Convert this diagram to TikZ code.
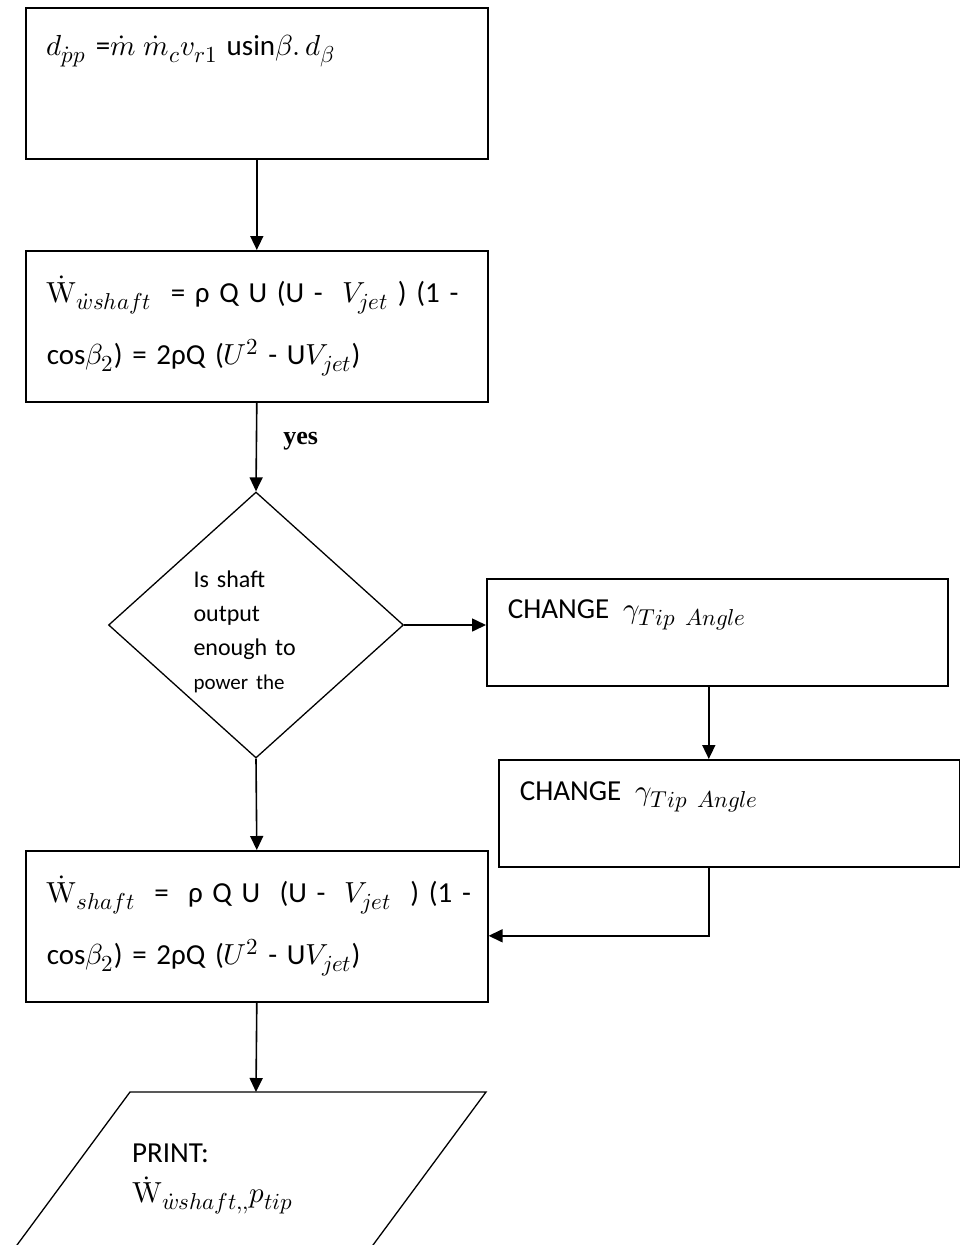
\documentclass[tikz,border=0pt]{standalone}
\usepackage{fontspec}
\usepackage{unicode-math}
\setmainfont{Carlito}
\setmathfont{Latin Modern Math}
\newfontfamily\yesfont{Liberation Serif}
\DeclareMathSizes{29}{29}{23}{18}
\usetikzlibrary{arrows.meta,shapes.geometric}

\begin{document}
\begin{tikzpicture}[x=1pt,y=-1pt,
  stepbox/.style={draw, line width=1.6pt, anchor=north west, inner xsep=21pt, inner ysep=0pt,
    align=left, font=\fontsize{29}{62}\selectfont},
  decision/.style={draw, diamond, line width=1.3pt, inner sep=0pt, align=left,
    font=\fontsize{24}{34}\selectfont},
  flow/.style={draw, line width=1.6pt, -{Triangle[length=14pt,width=13pt]}}]
  \useasboundingbox (0,0) rectangle (960,1245);
  \clip (0,0) rectangle (960,1245);

  % main column
  \node[stepbox, text width=420pt, text height=48pt, text depth=103pt] (box1) at (25,7)
    {$d_{\dot{p}p}$ =$\dot{m}\;\dot{m}_c v_{r1}$ usin$\beta.\,d_\beta$};
  \node[stepbox, text width=420pt, minimum height=151pt] (box2) at (25,250)
    {\mbox{$\dot{\symup{W}}_{\dot{w}shaft}$ \ = ρ Q U (U -\ \ $V_{jet}$ ) (1 -}\\
     \mbox{cos$\beta_2$) = 2ρQ ($U^2$ - U$V_{jet}$)}};
  \node[decision, minimum width=295pt, minimum height=266pt, text width=125pt] (dec) at (256,625)
    {\rule{0pt}{30pt}Is shaft\\output\\enough to\\{\fontsize{21}{34}\selectfont power the}};
  \node[stepbox, text width=420pt, minimum height=151pt] (box5) at (25,850)
    {\mbox{$\dot{\symup{W}}_{shaft}$ \ = \ ρ Q U \ (U -\ \ $V_{jet}$ \ ) (1 -}\\
     \mbox{cos$\beta_2$) = 2ρQ ($U^2$ - U$V_{jet}$)}};

  % side branch
  \node[stepbox, text width=419pt, text height=40pt, text depth=67pt] (box3) at (486,578)
    {CHANGE\enspace$\gamma_{Tip\ Angle}$};
  \node[stepbox, text width=419pt, text height=41pt, text depth=66pt] (box4) at (498,759)
    {CHANGE\enspace$\gamma_{Tip\ Angle}$};

  % output
  \coordinate (outtop) at (256,1092);
  \draw[line width=1.3pt] (-23.6,1300) -- (130,1092) -- (486,1092) -- (332.4,1300);
  \node[anchor=north west, align=left, inner sep=0pt, font=\fontsize{29}{40}\selectfont] (out) at (132,1144)
    {PRINT:\\$\dot{\symup{W}}_{\dot{w}shaft,,}p_{tip}$};

  \draw[flow] (box1.south) -- (box2.north);
  \draw[flow] (box2.south) -- node[pos=.44, anchor=west, xshift=26pt, inner sep=0pt,
    font=\yesfont\bfseries\fontsize{26}{30}\selectfont] (yes) {yes} (dec.north);
  \draw[flow] (dec.east) -- (dec.east -| box3.west);
  \draw[flow] ([xshift=-8.5pt]box3.south) -- ([xshift=-8.5pt]box3.south |- box4.north);
  \draw[flow] ([xshift=-20.5pt]box4.south) |- ([yshift=-9.5pt]box5.east);
  \draw[flow] (dec.south) -- (box5.north);
  \draw[flow] (box5.south) -- (outtop);
\end{tikzpicture}
\end{document}
